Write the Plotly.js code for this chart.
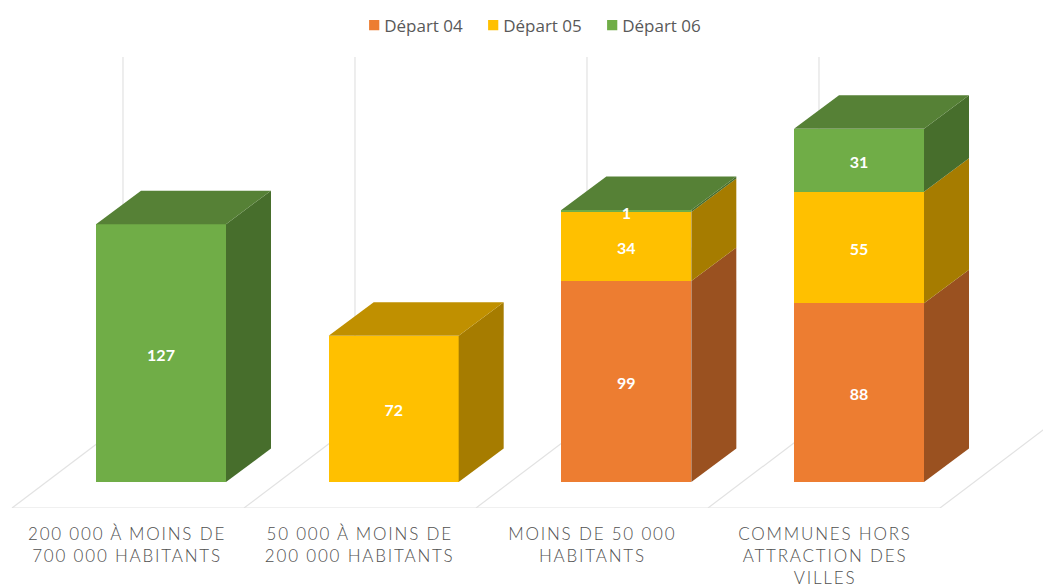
<!DOCTYPE html>
<html>
<head>
<meta charset="utf-8">
<script src="https://cdn.plot.ly/plotly-3.0.1.min.js"></script>
<style>
html,body{margin:0;padding:0;background:#fff;overflow:hidden}
.xtick text{letter-spacing:1.8px}
.legendpoints path{transform:translate(30px,0) scale(.85)}
</style>
</head>
<body>
<div id="chart" style="width:1043px;height:588px"></div>
<script>
// ---- data ----
var categories = [
  "200 000 À MOINS DE<br>700 000 HABITANTS",
  "50 000 À MOINS DE<br>200 000 HABITANTS",
  "MOINS DE 50 000<br>HABITANTS",
  "COMMUNES HORS<br>ATTRACTION DES<br>VILLES"
];
var depart04 = [null, null, 99, 88];
var depart05 = [null, 72, 34, 55];
var depart06 = [127, null, 1, 31];
var seriesNames = ["Départ 04", "Départ 05", "Départ 06"];
var seriesValues = [depart04, depart05, depart06];
var frontColors = ["#ED7D31", "#FFC000", "#70AD47"];
var sideColors  = ["#9A5120", "#A67C00", "#476E2C"];
var topColors   = ["#BD6427", "#C09000", "#568136"];

// ---- scales (axis units per pixel) ----
var W = 1043, plotBottom = 508, baseline = 482;
var pxPerCat = 232.67, pxPerVal = 2.03, firstCenter = 161;
var xRange = [-firstCenter / pxPerCat, (W - firstCenter) / pxPerCat];
var yRange = [(baseline - plotBottom) / pxPerVal, baseline / pxPerVal];
var barWidth = 130 / pxPerCat;
var depthX = 45 / pxPerCat, depthY = 33.5 / pxPerVal;
var labelShift = 34 / pxPerCat, labelDrop = 3.5 / pxPerVal;

var traces = [];
var idx = categories.map(function (_, i) { return i; });
var labelX = [], labelY = [], labelText = [];

// side and top faces, projected from the values
idx.forEach(function (i) {
  var base = 0, topSeries = -1;
  var r = i + barWidth / 2, l = i - barWidth / 2;
  seriesValues.forEach(function (vals, s) {
    var v = vals[i];
    if (v === null) return;
    traces.push({
      type: "scatter", mode: "lines", fill: "toself", showlegend: false, hoverinfo: "skip",
      fillcolor: sideColors[s], line: {width: 0},
      x: [r, r + depthX, r + depthX, r, r],
      y: [base, base + depthY, base + v + depthY, base + v, base]
    });
    labelX.push(i);
    labelY.push(base + v / 2 - labelDrop);
    labelText.push(String(v));
    base += v;
    topSeries = s;
  });
  traces.push({
    type: "scatter", mode: "lines", fill: "toself", showlegend: false, hoverinfo: "skip",
    fillcolor: topColors[topSeries], line: {width: 0},
    x: [l, r, r + depthX, l + depthX, l],
    y: [base, base, base + depthY, base + depthY, base]
  });
});

// front faces
seriesValues.forEach(function (vals, s) {
  traces.push({
    type: "bar", name: seriesNames[s], x: idx, y: vals, width: barWidth,
    marker: {color: frontColors[s], line: {width: 0}},
    hoverinfo: "name+y"
  });
});

// data labels, above the faces
traces.push({
  type: "scatter", mode: "text", showlegend: false, hoverinfo: "skip",
  x: labelX, y: labelY, text: labelText, textposition: "middle center",
  textfont: {family: "Lato, sans-serif", size: 16, color: "#FFFFFF", weight: 700}
});

// floor and wall grid
var gridColor = "#E2E2E2";
var floorLeft = 12, floorStep = 232, floorDX = 111, floorDY = 84, wallTop = 57;
function X(p) { return (p - firstCenter) / pxPerCat; }
function Y(p) { return (baseline - p) / pxPerVal; }
var shapes = [{
  type: "line", layer: "below", x0: X(floorLeft), x1: X(floorLeft + 4 * floorStep),
  y0: Y(plotBottom), y1: Y(plotBottom), line: {color: gridColor, width: 1.2}
}];
[0, 1, 2, 3, 4].forEach(function (k) {
  var fx = floorLeft + k * floorStep;
  shapes.push({
    type: "line", layer: "below", x0: X(fx), x1: X(fx + floorDX),
    y0: Y(plotBottom), y1: Y(plotBottom - floorDY), line: {color: gridColor, width: 1.2}
  });
  if (k < 4) shapes.push({
    type: "line", layer: "below", x0: X(fx + floorDX), x1: X(fx + floorDX),
    y0: Y(plotBottom - floorDY), y1: Y(wallTop), line: {color: gridColor, width: 1.2}
  });
});

var layout = {
  width: 1043, height: 588,
  margin: {l: 0, r: 0, t: 0, b: 80, pad: 0},
  paper_bgcolor: "#FFFFFF", plot_bgcolor: "#FFFFFF",
  barmode: "stack", bargap: 0,
  showlegend: true,
  legend: {
    orientation: "h", x: 0.33, xanchor: "left", y: 0.985, yanchor: "top",
    entrywidth: 74, entrywidthmode: "pixels",
    font: {family: "Open Sans, sans-serif", size: 17, color: "#595959"},
    traceorder: "normal", itemclick: false, itemdoubleclick: false
  },
  shapes: shapes,
  xaxis: {
    type: "linear", range: xRange, tickmode: "array",
    tickvals: idx.map(function (i) { return i - labelShift; }), ticktext: categories,
    showgrid: false, zeroline: false, showline: false, ticks: "", tickangle: 0,
    ticklabelstandoff: 14,
    tickfont: {family: "Lato, sans-serif", size: 17, color: "#505050", weight: 300}
  },
  yaxis: {range: yRange, showgrid: false, zeroline: false, showline: false,
    showticklabels: false, ticks: ""}
};
Plotly.newPlot("chart", traces, layout, {displayModeBar: false});
</script>
</body>
</html>
